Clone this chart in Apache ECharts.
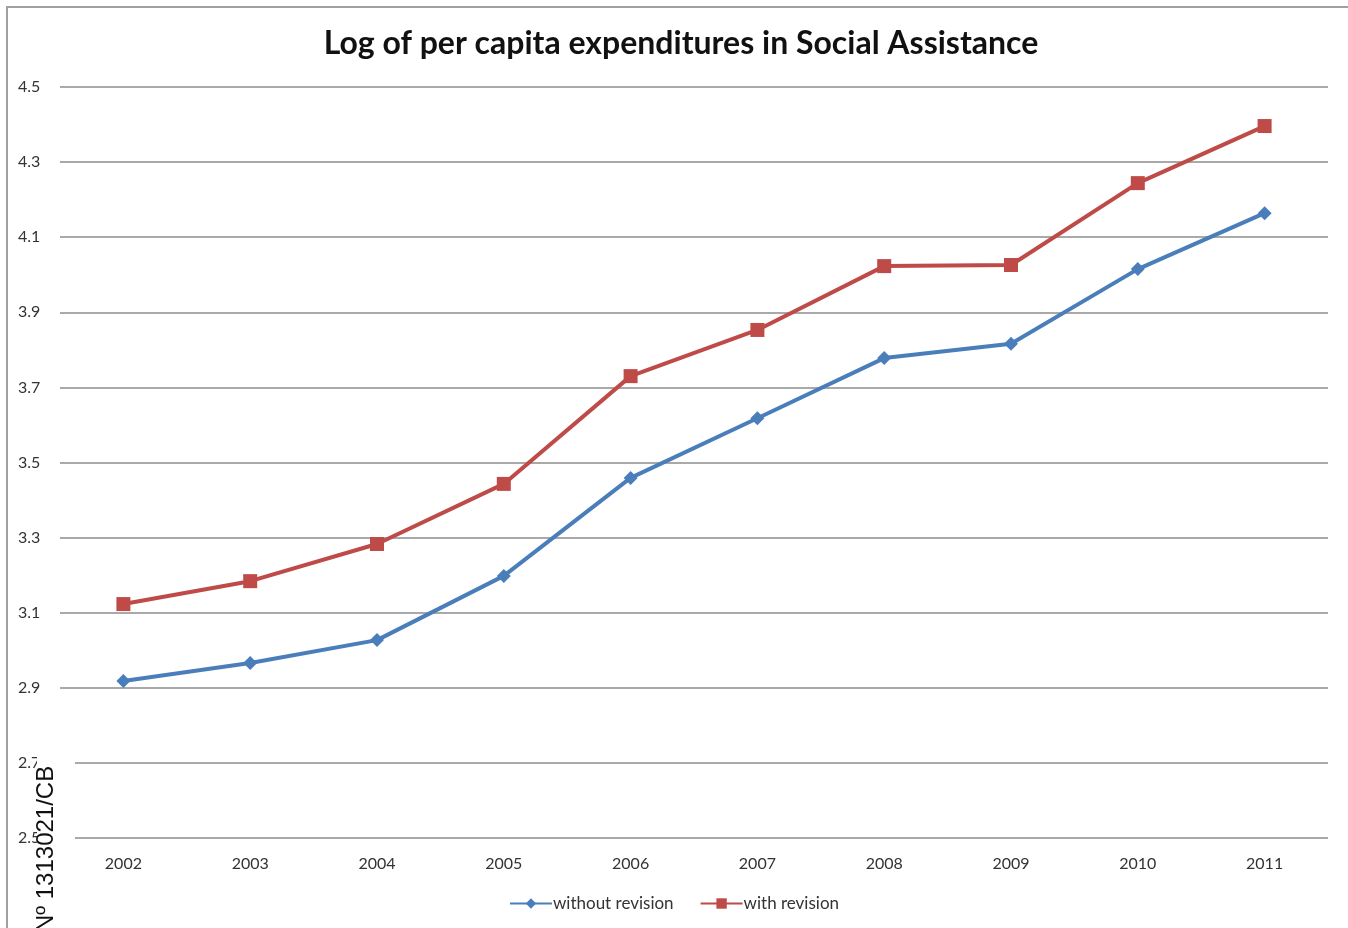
<!DOCTYPE html>
<html>
<head>
<meta charset="utf-8">
<script src="https://cdn.jsdelivr.net/npm/echarts@6/dist/echarts.min.js"></script>
<style>
  html, body { margin: 0; padding: 0; background: #fff; }
  #chart { width: 1348px; height: 928px; }
</style>
</head>
<body>
<div id="chart"></div>
<script>
// Years on the horizontal axis
const years = ['2002', '2003', '2004', '2005', '2006', '2007', '2008', '2009', '2010', '2011'];
// Log of per capita expenditures, two measurement variants
const withoutRevision = [2.918, 2.966, 3.027, 3.198, 3.459, 3.618, 3.778, 3.816, 4.015, 4.164];
const withRevision = [3.123, 3.184, 3.283, 3.443, 3.730, 3.853, 4.023, 4.026, 4.244, 4.396];
const seriesNames = ['without revision', 'with revision'];
const titleText = 'Log of per capita expenditures in Social Assistance';
const stampText = 'Nº 1313021/CB';

const chart = echarts.init(document.getElementById('chart'));
const labelFont = 'Lato, "Open Sans", sans-serif';

chart.setOption({
  animation: false,
  backgroundColor: '#fff',
  title: {
    text: titleText,
    left: 676,
    textAlign: 'center',
    top: 23,
    textStyle: { fontFamily: labelFont, fontWeight: 'bold', fontSize: 32, color: '#111' }
  },
  legend: {
    data: seriesNames,
    bottom: 11,
    left: 'center',
    itemWidth: 42,
    itemHeight: 13,
    itemGap: 26,
    textStyle: { fontFamily: labelFont, fontSize: 17, color: '#333', padding: [0, 0, 0, -4] }
  },
  grid: { left: 60, right: 20, top: 87, bottom: 90 },
  xAxis: {
    type: 'category',
    data: years,
    boundaryGap: true,
    axisLine: { show: false },
    axisTick: { show: false },
    axisLabel: { margin: 18, fontFamily: labelFont, fontSize: 16, color: '#333' }
  },
  yAxis: {
    type: 'value',
    min: 2.5,
    max: 4.5,
    interval: 0.2,
    axisLine: { show: false },
    axisTick: { show: false },
    splitLine: { lineStyle: { color: '#8c8c8c', width: 1.5 } },
    axisLabel: {
      align: 'left',
      margin: 42,
      fontFamily: labelFont,
      fontSize: 16,
      color: '#333',
      formatter: v => v.toFixed(1)
    }
  },
  series: [
    {
      name: seriesNames[0],
      type: 'line',
      data: withoutRevision,
      symbol: 'diamond',
      symbolSize: 14,
      lineStyle: { width: 4, color: '#4a7ebb' },
      itemStyle: { color: '#4a7ebb' }
    },
    {
      name: seriesNames[1],
      type: 'line',
      data: withRevision,
      symbol: 'rect',
      symbolSize: 14,
      lineStyle: { width: 4, color: '#be4b48' },
      itemStyle: { color: '#be4b48' }
    }
  ],
  graphic: [
    // outer frame (top and left edges)
    { type: 'polyline', shape: { points: [[7, 928], [7, 7], [1348, 7]] },
      style: { stroke: '#a0a0a0', lineWidth: 2, fill: null }, z: 10 },
    // stamp over the lower axis labels
    { type: 'rect', shape: { x: 37, y: 745, width: 38, height: 183 },
      style: { fill: '#fff' }, z: 20 },
    { type: 'text', x: 46, y: 932, rotation: Math.PI / 2, z: 21,
      style: { text: stampText, fontFamily: '"Liberation Sans", Arial, sans-serif',
               fontSize: 24, fill: '#111', align: 'left', verticalAlign: 'middle' } }
  ]
});
</script>
</body>
</html>
